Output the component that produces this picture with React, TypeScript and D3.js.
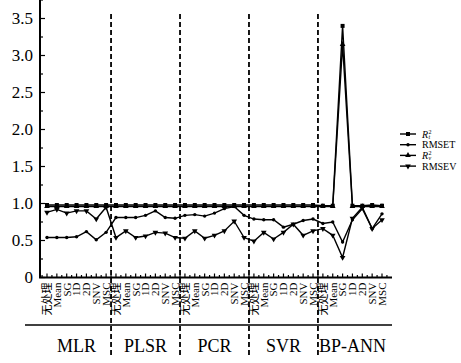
import * as d3 from 'd3';
import React, { useEffect, useRef } from 'react';

const models = ['MLR', 'PLSR', 'PCR', 'SVR', 'BP-ANN'];
const methods = ['无处理', 'Mean', 'SG', '1D', '2D', 'SNV', 'MSC'];
const yTicks = [0, 0.5, 1.0, 1.5, 2.0, 2.5, 3.0, 3.5];

// one value per model x method, in model order
const r2t = [
  0.98, 0.98, 0.98, 0.98, 0.98, 0.98, 0.98,
  0.98, 0.98, 0.98, 0.98, 0.98, 0.98, 0.98,
  0.98, 0.98, 0.98, 0.98, 0.98, 0.98, 0.98,
  0.98, 0.98, 0.98, 0.98, 0.98, 0.98, 0.98,
  0.97, 0.97, 3.40, 0.97, 0.97, 0.98, 0.97,
];
const rmset = [
  0.54, 0.54, 0.54, 0.55, 0.62, 0.51, 0.61,
  0.81, 0.81, 0.81, 0.84, 0.90, 0.81, 0.80,
  0.84, 0.85, 0.83, 0.87, 0.93, 0.96, 0.84,
  0.79, 0.78, 0.78, 0.68, 0.72, 0.77, 0.79,
  0.73, 0.75, 0.48, 0.78, 0.93, 0.66, 0.86,
];
const r2v = [
  0.96, 0.96, 0.96, 0.96, 0.96, 0.96, 0.96,
  0.96, 0.96, 0.96, 0.96, 0.96, 0.96, 0.96,
  0.96, 0.96, 0.96, 0.96, 0.96, 0.96, 0.96,
  0.96, 0.96, 0.96, 0.96, 0.96, 0.96, 0.96,
  0.96, 0.96, 3.15, 0.96, 0.96, 0.96, 0.96,
];
const rmsev = [
  0.88, 0.92, 0.87, 0.90, 0.90, 0.79, 0.95,
  0.54, 0.63, 0.54, 0.56, 0.61, 0.60, 0.54,
  0.53, 0.63, 0.53, 0.57, 0.63, 0.76, 0.54,
  0.49, 0.61, 0.52, 0.61, 0.72, 0.57, 0.63,
  0.66, 0.57, 0.27, 0.80, 0.95, 0.66, 0.78,
];

const serif = '"Liberation Serif", "Times New Roman", "Noto Sans CJK SC", serif';

function App() {
  const ref = useRef(null);

  useEffect(() => {
    const svg = d3.select(ref.current);
    svg.selectAll('*').remove();

    const keys = [];
    models.forEach(m => methods.forEach(c => keys.push(m + '|' + c)));

    const x = d3.scalePoint().domain(keys).range([47, 382]);
    const y = d3.scaleLinear().domain([0, 3.75]).range([277.5, 0]);
    const step = x.step();

    const g = svg.append('g');

    // y axis
    g.append('line')
      .attr('x1', 40).attr('x2', 40).attr('y1', 0).attr('y2', y(0))
      .attr('stroke', '#000').attr('stroke-width', 2);
    d3.range(0, 3.76, 0.25).forEach(v => {
      const major = Math.abs(v * 2 - Math.round(v * 2)) < 1e-6;
      g.append('line')
        .attr('x1', 40).attr('x2', 40 + (major ? 5 : 3))
        .attr('y1', y(v)).attr('y2', y(v))
        .attr('stroke', '#000').attr('stroke-width', 1.2);
    });
    g.selectAll('.ylab')
      .data(yTicks)
      .enter()
      .append('text')
      .attr('x', 33)
      .attr('y', d => y(d))
      .attr('dy', '0.35em')
      .attr('text-anchor', 'end')
      .style('font-family', serif)
      .style('font-size', '17px')
      .text(d => d === 0 ? '0' : d3.format('.1f')(d));

    // x axis
    g.append('line')
      .attr('x1', 39).attr('x2', 392).attr('y1', y(0)).attr('y2', y(0))
      .attr('stroke', '#000').attr('stroke-width', 2);
    keys.forEach((k, i) => {
      g.append('line')
        .attr('x1', x(k)).attr('x2', x(k))
        .attr('y1', y(0)).attr('y2', y(0) - 4)
        .attr('stroke', '#000').attr('stroke-width', 1.2);
      g.append('line')
        .attr('x1', x(k) + step / 2).attr('x2', x(k) + step / 2)
        .attr('y1', y(0)).attr('y2', y(0) - 2.5)
        .attr('stroke', '#000').attr('stroke-width', 1.2);
      if (i === 0) {
        g.append('line')
          .attr('x1', x(k) - step / 2).attr('x2', x(k) - step / 2)
          .attr('y1', y(0)).attr('y2', y(0) - 2.5)
          .attr('stroke', '#000').attr('stroke-width', 1.2);
      }
    });

    // category labels, rotated
    g.selectAll('.xlab')
      .data(keys)
      .enter()
      .append('text')
      .attr('transform', d => `translate(${x(d)},${y(0) + 5}) rotate(-90)`)
      .attr('dy', '0.35em')
      .attr('text-anchor', 'end')
      .style('font-family', serif)
      .style('font-size', '11px')
      .text(d => d.split('|')[1]);

    // group bracket line and names
    g.append('line')
      .attr('x1', 25).attr('x2', 392).attr('y1', 325).attr('y2', 325)
      .attr('stroke', '#000').attr('stroke-width', 1.5);
    models.forEach(m => {
      const x0 = x(m + '|' + methods[0]);
      const x1 = x(m + '|' + methods[methods.length - 1]);
      g.append('text')
        .attr('x', (x0 + x1) / 2)
        .attr('y', 352)
        .attr('text-anchor', 'middle')
        .style('font-family', serif)
        .style('font-size', '18px')
        .text(m);
    });

    // dashed separators
    models.slice(1).forEach(m => {
      const xs = x(m + '|' + methods[0]) - step / 2;
      g.append('line')
        .attr('x1', xs).attr('x2', xs).attr('y1', 14).attr('y2', 356)
        .attr('stroke', '#000').attr('stroke-width', 1.8)
        .attr('stroke-dasharray', '5,3');
    });

    // series
    const series = [
      { name: 'R2t', values: r2t, symbol: d3.symbolSquare, size: 16 },
      { name: 'RMSET', values: rmset, symbol: d3.symbolCircle, size: 9 },
      { name: 'R2v', values: r2v, symbol: d3.symbolTriangle, size: 14 },
      { name: 'RMSEV', values: rmsev, symbol: d3.symbolTriangle, size: 14, down: true },
    ];

    const line = d3.line()
      .x((d, i) => x(keys[i]))
      .y(d => y(d));

    series.forEach(s => {
      g.append('path')
        .attr('d', line(s.values))
        .attr('fill', 'none')
        .attr('stroke', '#000')
        .attr('stroke-width', 1.4);
      g.selectAll(null)
        .data(s.values)
        .enter()
        .append('path')
        .attr('d', d3.symbol().type(s.symbol).size(s.size))
        .attr('transform', (d, i) => `translate(${x(keys[i])},${y(d)})${s.down ? ' rotate(180)' : ''}`)
        .attr('fill', '#000');
    });

    // legend
    const lg = g.append('g').attr('transform', 'translate(400,134)');
    series.forEach((s, i) => {
      const row = lg.append('g').attr('transform', `translate(0,${i * 10.7})`);
      row.append('line')
        .attr('x1', 0).attr('x2', 16).attr('y1', 0).attr('y2', 0)
        .attr('stroke', '#000').attr('stroke-width', 1.4);
      row.append('path')
        .attr('d', d3.symbol().type(s.symbol).size(s.size))
        .attr('transform', `translate(8,0)${s.down ? ' rotate(180)' : ''}`)
        .attr('fill', '#000');
      if (s.name.startsWith('R2')) {
        row.append('text')
          .attr('x', 22).attr('y', 3.5)
          .style('font-family', serif).style('font-style', 'italic')
          .style('font-size', '10px')
          .text('R');
        row.append('text')
          .attr('x', 28.5).attr('y', -0.5)
          .style('font-family', serif)
          .style('font-size', '6px')
          .text('2');
        row.append('text')
          .attr('x', 28.5).attr('y', 4.5)
          .style('font-family', serif).style('font-style', 'italic')
          .style('font-size', '6px')
          .text(s.name.slice(2));
      } else {
        row.append('text')
          .attr('x', 22).attr('y', 3.5)
          .style('font-family', serif)
          .style('font-size', '10px')
          .text(s.name);
      }
    });
  }, []);

  return (
    <svg ref={ref} width={461} height={363}
      style={{ position: 'absolute', left: 0, top: 0, background: '#fff' }} />
  );
}

export default App;
